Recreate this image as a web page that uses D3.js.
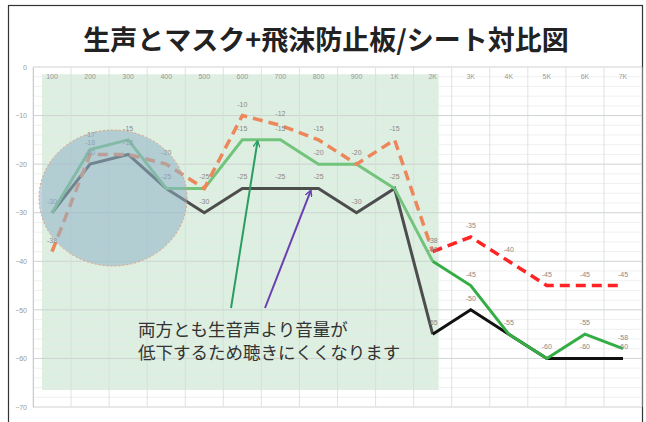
<!DOCTYPE html>
<html><head><meta charset="utf-8">
<script src="https://cdn.jsdelivr.net/npm/d3@7"></script>
<style>html,body{margin:0;padding:0;background:#fff;}svg{display:block;}</style>
</head><body>
<svg id="c" width="646" height="422"></svg>
<script>
const categories = ["100","200","300","400","500","600","700","800","900","1K","2K","3K","4K","5K","6K","7K"];
const blackSeries  = [-30,-20,-18,-25,-30,-25,-25,-25,-30,-25,-55,-50,-55,-60,-60,-60];
const greenSeries  = [-30,-17,-15,-25,-25,-15,-15,-20,-20,-25,-40,-45,-55,-60,-55,-58];
const orangeSeries = [-38,-18,-18,-20,-25,-10,-12,-15,-20,-15,-38,-35,-40,-45,-45,-45];
const yTicks = [0,-10,-20,-30,-40,-50,-60,-70];
const titleText = "生声とマスク+飛沫防止板/シート対比図";
const noteLines = ["両方とも生音声より音量が","低下するため聴きにくくなります"];

const svg = d3.select("#c");
const FONT = "'Noto Sans CJK JP','Noto Sans',sans-serif";

// frame
svg.append("rect").attr("x",8.5).attr("y",5.5).attr("width",634).attr("height",430)
  .attr("fill","#fff").attr("stroke","#333").attr("stroke-width",1.2);

svg.append("text").attr("x",326).attr("y",50).attr("text-anchor","middle")
  .attr("font-family",FONT).attr("font-weight","bold").attr("font-size",27)
  .attr("fill","#222").text(titleText);

const x = d3.scaleBand().domain(categories).range([33,642]).padding(0);
const y = d3.scaleLinear().domain([0,-70]).range([67,407]);
const cx = d => x(d) + x.bandwidth()/2;

// green shaded region
svg.append("rect").attr("x",x("100")+9).attr("y",y(-1.5))
  .attr("width",(cx("2K")+6)-(x("100")+9)).attr("height",y(-66.5)-y(-1.5))
  .attr("fill","#ddefe1");

// grid
const g = svg.append("g");
d3.range(0,-71,-2).forEach(v=>{
  g.append("line").attr("x1",33).attr("x2",642).attr("y1",y(v)).attr("y2",y(v))
    .attr("stroke", v%10===0 ? "#cfd3d3" : "#e6e9e8").attr("stroke-width",v%10===0?1:0.7);
});
x.domain().concat(["end"]).forEach(c=>{
  const xx = c==="end" ? 642 : x(c);
  g.append("line").attr("x1",xx).attr("x2",xx).attr("y1",y(0)).attr("y2",y(-70))
    .attr("stroke","#d8dcdb").attr("stroke-width",0.8);
});
// y axis
const yAxis = d3.axisLeft(y).tickValues(yTicks).tickSize(0).tickPadding(6);
const ya = svg.append("g").attr("transform","translate(33,0)").call(yAxis);
ya.select(".domain").attr("stroke","#ccc");
ya.selectAll("text").attr("fill","#999").attr("font-size",7).attr("font-family","Liberation Sans");
// x labels at top
const xAxis = d3.axisTop(x).tickSize(0).tickPadding(0);
const xa = svg.append("g").attr("transform","translate(0,79)").call(xAxis);
xa.select(".domain").remove();
xa.selectAll("text").attr("fill","#9a9a9a").attr("font-size",7).attr("font-family","Liberation Sans");

// lines
function drawLine(vals, from, to, color, width, dash){
  const pts = categories.map((c,i)=>[cx(c), y(vals[i])]).slice(from, to+1);
  svg.append("path").attr("d", d3.line()(pts)).attr("fill","none")
    .attr("stroke",color).attr("stroke-width",width)
    .attr("stroke-dasharray",dash||null).attr("stroke-linejoin","miter");
}
drawLine(blackSeries,0,10,"#4d4d4d",3);
drawLine(blackSeries,10,15,"#111",3);
drawLine(greenSeries,0,10,"#72c47c",3);
drawLine(greenSeries,10,15,"#35ad45",3);
drawLine(orangeSeries,0,10,"#ec875c",3.5,"10,6");
drawLine(orangeSeries,10,15,"#ff2424",3.5,"10,6");

// data labels (dedupe same value per category, nudge near-collisions)
const labelLayer = svg.append("g");
categories.forEach((c,i)=>{
  const vals = Array.from(new Set([blackSeries[i], greenSeries[i], orangeSeries[i]])).sort((a,b)=>b-a);
  let prevY = -Infinity;
  const ys = [];
  // from lowest (largest y) upward
  vals.slice().reverse().forEach(v=>{
    let ly = y(v) - 9;
    if (ys.length && ys[ys.length-1] - ly < 8) ly = ys[ys.length-1] - 8;
    ys.push(ly);
    labelLayer.append("text").attr("x",cx(c)).attr("y",ly)
      .attr("text-anchor","middle").attr("font-size",7).attr("fill","#888")
      .attr("font-family","Liberation Sans").text(v);
  });
});

// ellipse highlight
svg.append("ellipse").attr("cx",113).attr("cy",198).attr("rx",74).attr("ry",68)
  .attr("fill","#8fb2c8").attr("fill-opacity",0.55)
  .attr("stroke","#e0a080").attr("stroke-width",1).attr("stroke-dasharray","2,2");

// arrows
const defs = svg.append("defs");
function marker(id,color){
  defs.append("marker").attr("id",id).attr("viewBox","0 0 10 10").attr("refX",9).attr("refY",5)
    .attr("markerWidth",7).attr("markerHeight",7).attr("orient","auto").attr("markerUnits","userSpaceOnUse")
    .append("path").attr("d","M0,0 L9,5 L0,10").attr("fill","none").attr("stroke",color).attr("stroke-width",2);
}
marker("mg","#2a9d63"); marker("mp","#6b3fb3");
const tipG = [x("600")+x.bandwidth()*0.9, y(-15)+1];
const tipP = [x("700")+x.bandwidth()*1.3, y(-25)+2];
svg.append("line").attr("x1",231).attr("y1",308).attr("x2",tipG[0]).attr("y2",tipG[1])
  .attr("stroke","#2a9d63").attr("stroke-width",2).attr("marker-end","url(#mg)");
svg.append("line").attr("x1",265).attr("y1",308).attr("x2",tipP[0]).attr("y2",tipP[1])
  .attr("stroke","#6b3fb3").attr("stroke-width",2).attr("marker-end","url(#mp)");

// note text
noteLines.forEach((t,i)=>{
  svg.append("text").attr("x",138).attr("y",336+i*23).attr("font-family",FONT)
    .attr("font-size",17.5).attr("fill","#333").text(t);
});
</script>
</body></html>
